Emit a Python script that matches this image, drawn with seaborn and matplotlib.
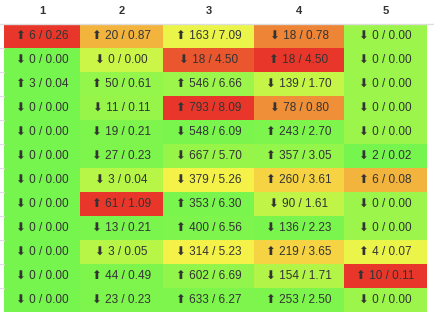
import numpy as np
import pandas as pd
import seaborn as sns
import matplotlib.pyplot as plt
from matplotlib.colors import LinearSegmentedColormap
from matplotlib.lines import Line2D

# column headers
columns = ['1', '2', '3', '4', '5']

# counts per cell (rows top to bottom)
counts = [
    [6, 20, 163, 18, 0],
    [0, 0, 18, 18, 0],
    [3, 50, 546, 139, 0],
    [0, 11, 793, 78, 0],
    [0, 19, 548, 243, 0],
    [0, 27, 667, 357, 2],
    [0, 3, 379, 260, 6],
    [0, 61, 353, 90, 0],
    [0, 13, 400, 136, 0],
    [0, 3, 314, 219, 4],
    [0, 44, 602, 154, 10],
    [0, 23, 633, 253, 0],
]

# ratios per cell
ratios = [
    [0.26, 0.87, 7.09, 0.78, 0.00],
    [0.00, 0.00, 4.50, 4.50, 0.00],
    [0.04, 0.61, 6.66, 1.70, 0.00],
    [0.00, 0.11, 8.09, 0.80, 0.00],
    [0.00, 0.21, 6.09, 2.70, 0.00],
    [0.00, 0.23, 5.70, 3.05, 0.02],
    [0.00, 0.04, 5.26, 3.61, 0.08],
    [0.00, 1.09, 6.30, 1.61, 0.00],
    [0.00, 0.21, 6.56, 2.23, 0.00],
    [0.00, 0.05, 5.23, 3.65, 0.07],
    [0.00, 0.49, 6.69, 1.71, 0.11],
    [0.00, 0.23, 6.27, 2.50, 0.00],
]

# trend direction: 1 = up, 0 = down
trend = [
    [1, 1, 1, 0, 0],
    [0, 0, 0, 1, 0],
    [1, 1, 1, 0, 0],
    [0, 0, 1, 0, 0],
    [0, 0, 0, 1, 0],
    [0, 0, 0, 1, 0],
    [0, 0, 0, 1, 1],
    [0, 1, 1, 0, 0],
    [0, 0, 1, 0, 0],
    [0, 0, 0, 1, 1],
    [0, 1, 1, 0, 1],
    [0, 0, 1, 1, 0],
]

# heat level used for the cell colour (0 = green, 1 = red)
heat = [
    [1.00, 0.78, 0.52, 0.88, 0.25],
    [0.00, 0.42, 0.95, 1.00, 0.25],
    [0.00, 0.20, 0.25, 0.40, 0.25],
    [0.00, 0.22, 1.00, 0.86, 0.25],
    [0.00, 0.05, 0.02, 0.05, 0.25],
    [0.00, 0.05, 0.22, 0.20, 0.00],
    [0.00, 0.35, 0.56, 0.68, 0.78],
    [0.00, 1.00, 0.03, 0.38, 0.25],
    [0.00, 0.03, 0.05, 0.03, 0.25],
    [0.00, 0.35, 0.56, 0.68, 0.52],
    [0.00, 0.05, 0.18, 0.33, 1.00],
    [0.00, 0.05, 0.05, 0.05, 0.25],
]

col_widths = [76, 83, 91, 90, 83]

cmap = LinearSegmentedColormap.from_list('heat', [
    (0.00, '#76f54e'), (0.25, '#9cf54a'), (0.40, '#c5f546'),
    (0.55, '#f4f54a'), (0.70, '#f5cf42'), (0.80, '#f2ae3c'),
    (0.88, '#ee8635'), (1.00, '#e8372a')])

plt.rcParams['font.family'] = ['Liberation Sans', 'DejaVu Sans']

W, H = 434, 317
fig = plt.figure(figsize=(W / 100, H / 100), dpi=100)
gs = fig.add_gridspec(1, 5, width_ratios=col_widths, wspace=0,
                      left=4 / W, right=427 / W, top=1 - 24 / H, bottom=1 - 312 / H)

heat_arr = np.array(heat)
for j, name in enumerate(columns):
    ax = fig.add_subplot(gs[0, j])
    labels = np.array([['{} {} / {:.2f}'.format('⬆' if trend[i][j] else '⬇',
                                                 counts[i][j], ratios[i][j])]
                       for i in range(len(counts))])
    df = pd.DataFrame(heat_arr[:, j:j + 1], columns=[name])
    sns.heatmap(df, ax=ax, cmap=cmap, vmin=0, vmax=1, cbar=False,
                annot=labels, fmt='', annot_kws={'fontsize': 8.5, 'color': '#333333'},
                xticklabels=False, yticklabels=False)
    ax.set_title(name, fontsize=8, fontweight='bold', color='#333333', pad=7)

# header rule and row rules at the left edge
fig.add_artist(Line2D([0, 1], [1 - 23.5 / H, 1 - 23.5 / H], color='#dddddd', lw=1))
for i in range(1, len(counts)):
    y = 1 - (24 + 24 * i) / H
    fig.add_artist(Line2D([0, 4 / W], [y, y], color='#dddddd', lw=0.8))

fig.savefig('out.png', dpi=100)
